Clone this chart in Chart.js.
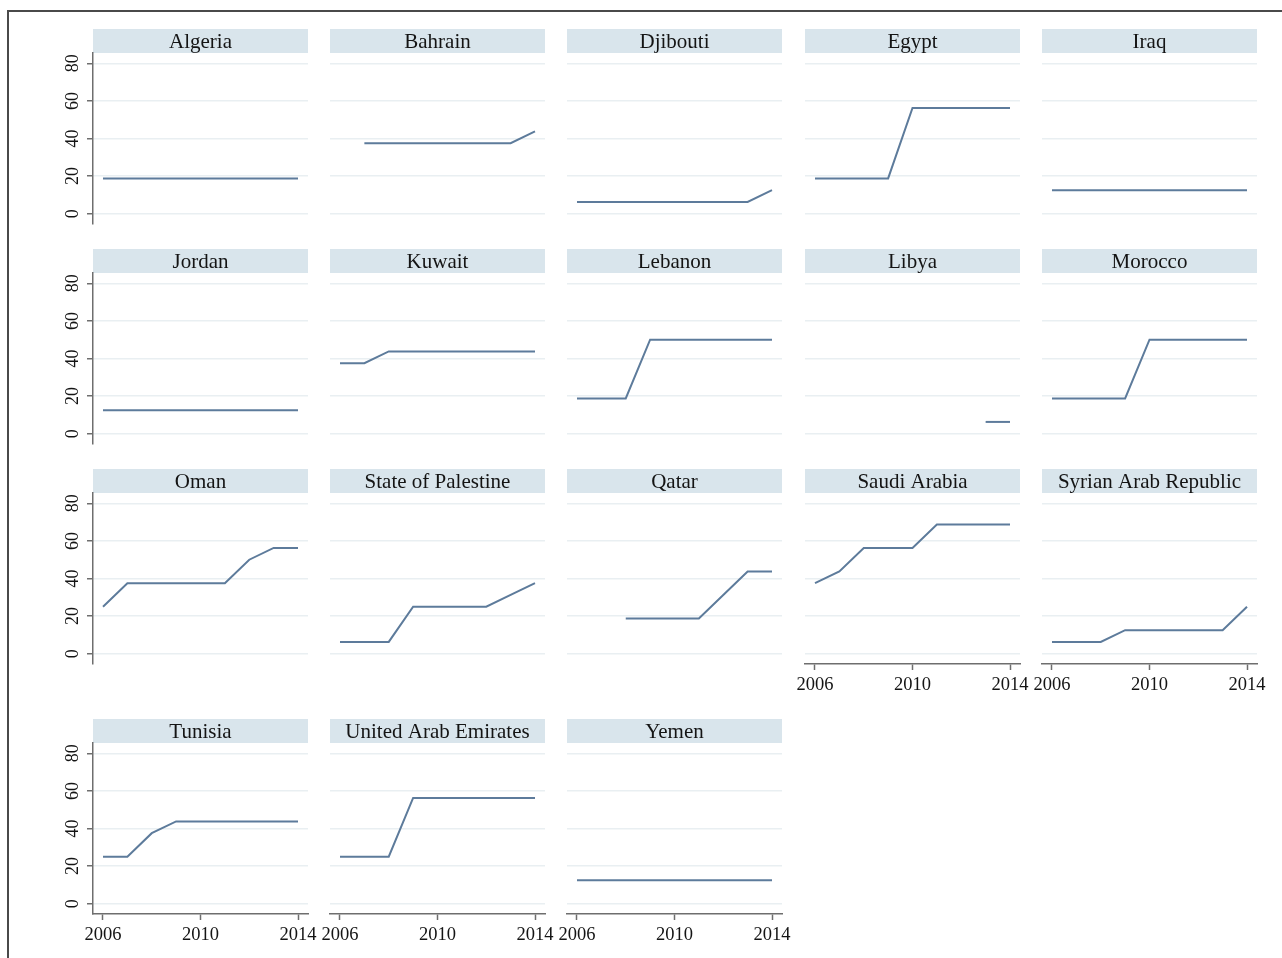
<!DOCTYPE html>
<html>
<head>
<meta charset="utf-8">
<title>Score by country, 2006–2014</title>
<script src="https://cdn.jsdelivr.net/npm/chart.js@4/dist/chart.umd.min.js"></script>
<style>
  html, body { margin: 0; padding: 0; background: #ffffff; }
  body { position: relative; width: 1282px; height: 958px; overflow: hidden; }
  #frame {
    position: absolute; left: 7px; top: 10px; width: 1300px; height: 980px;
    border-top: 2px solid #4a4a4a; border-left: 2px solid #4a4a4a;
  }
  canvas { position: absolute; }
</style>
</head>
<body>
<div id="frame"></div>
<div id="grid"></div>
<script>
// Years on the horizontal axis and the tick labels used on both axes
const years = [2006, 2007, 2008, 2009, 2010, 2011, 2012, 2013, 2014];
const yearTicks = [2006, 2010, 2014];
const scoreTicks = [0, 20, 40, 60, 80];

// Panel titles, in reading order
const countries = [
  "Algeria", "Bahrain", "Djibouti", "Egypt", "Iraq",
  "Jordan", "Kuwait", "Lebanon", "Libya", "Morocco",
  "Oman", "State of Palestine", "Qatar", "Saudi Arabia", "Syrian Arab Republic",
  "Tunisia", "United Arab Emirates", "Yemen"
];

// Yearly scores (null = no observation)
const algeria   = [18.75, 18.75, 18.75, 18.75, 18.75, 18.75, 18.75, 18.75, 18.75];
const bahrain   = [null, 37.5, 37.5, 37.5, 37.5, 37.5, 37.5, 37.5, 43.75];
const djibouti  = [6.25, 6.25, 6.25, 6.25, 6.25, 6.25, 6.25, 6.25, 12.5];
const egypt     = [18.75, 18.75, 18.75, 18.75, 56.25, 56.25, 56.25, 56.25, 56.25];
const iraq      = [12.5, 12.5, 12.5, 12.5, 12.5, 12.5, 12.5, 12.5, 12.5];
const jordan    = [12.5, 12.5, 12.5, 12.5, 12.5, 12.5, 12.5, 12.5, 12.5];
const kuwait    = [37.5, 37.5, 43.75, 43.75, 43.75, 43.75, 43.75, 43.75, 43.75];
const lebanon   = [18.75, 18.75, 18.75, 50, 50, 50, 50, 50, 50];
const libya     = [null, null, null, null, null, null, null, 6.25, 6.25];
const morocco   = [18.75, 18.75, 18.75, 18.75, 50, 50, 50, 50, 50];
const oman      = [25, 37.5, 37.5, 37.5, 37.5, 37.5, 50, 56.25, 56.25];
const palestine = [6.25, 6.25, 6.25, 25, 25, 25, 25, 31.25, 37.5];
const qatar     = [null, null, 18.75, 18.75, 18.75, 18.75, 31.25, 43.75, 43.75];
const saudi     = [37.5, 43.75, 56.25, 56.25, 56.25, 68.75, 68.75, 68.75, 68.75];
const syria     = [6.25, 6.25, 6.25, 12.5, 12.5, 12.5, 12.5, 12.5, 25];
const tunisia   = [25, 25, 37.5, 43.75, 43.75, 43.75, 43.75, 43.75, 43.75];
const uae       = [25, 25, 25, 56.25, 56.25, 56.25, 56.25, 56.25, 56.25];
const yemen     = [12.5, 12.5, 12.5, 12.5, 12.5, 12.5, 12.5, 12.5, 12.5];

const seriesList = [
  algeria, bahrain, djibouti, egypt, iraq,
  jordan, kuwait, lebanon, libya, morocco,
  oman, palestine, qatar, saudi, syria,
  tunisia, uae, yemen
];

// Panels that carry the year axis (last panel in each column)
const withYearAxis = new Set([13, 14, 15, 16, 17]);

// ---- layout of the small multiples ----
const FONT = '"Liberation Serif", "Times New Roman", Times, serif';
const colLeft = [93, 330, 567, 805, 1042];
const rowTop = [29, 249, 469, 719];
const PLOT_W = 215;
const STRIP_H = 24;
const PLOT_H = 171;
const AXIS_W = 40;      // room left of the plot for the score axis
const AXIS_H = 40;      // room under the plot for the year axis
const PAD_R = 22;

const LINE_COLOR = '#5d7b9b';
const STRIP_COLOR = '#d9e5ec';
const GRID_COLOR = '#e9eff2';
const AXIS_COLOR = '#6e6e6e';
const TEXT_COLOR = '#141414';

Chart.defaults.font.family = FONT;
Chart.defaults.color = TEXT_COLOR;

// Grey title strip above each plot area
const stripTitle = {
  id: 'stripTitle',
  beforeDraw(chart, args, opts) {
    const { ctx, chartArea } = chart;
    ctx.save();
    ctx.fillStyle = STRIP_COLOR;
    ctx.fillRect(chartArea.left, chartArea.top - STRIP_H, chartArea.right - chartArea.left, STRIP_H);
    ctx.fillStyle = TEXT_COLOR;
    ctx.font = '21px ' + FONT;
    ctx.textAlign = 'center';
    ctx.textBaseline = 'alphabetic';
    ctx.fillText(opts.text, (chartArea.left + chartArea.right) / 2, chartArea.top - STRIP_H + 18.7);
    ctx.restore();
  }
};

// Vertical (rotated) score labels on the left-hand panels
const rotatedScoreLabels = {
  id: 'rotatedScoreLabels',
  afterDraw(chart, args, opts) {
    if (!opts.show) return;
    const { ctx } = chart;
    const y = chart.scales.y;
    ctx.save();
    ctx.fillStyle = TEXT_COLOR;
    ctx.font = '18px ' + FONT;
    ctx.textAlign = 'center';
    ctx.textBaseline = 'middle';
    y.ticks.forEach(t => {
      const py = y.getPixelForValue(t.value);
      ctx.save();
      ctx.translate(chart.chartArea.left - 19.5, py);
      ctx.rotate(-Math.PI / 2);
      ctx.fillText(String(t.value), 0, 0);
      ctx.restore();
    });
    ctx.restore();
  }
};

const holder = document.getElementById('grid');

countries.forEach((name, i) => {
  const row = Math.floor(i / 5);
  const col = i % 5;
  const showY = col === 0;
  const showX = withYearAxis.has(i);

  const canvas = document.createElement('canvas');
  const w = AXIS_W + PLOT_W + PAD_R;
  const h = STRIP_H + PLOT_H + AXIS_H;
  canvas.width = w;
  canvas.height = h;
  canvas.style.width = w + 'px';
  canvas.style.height = h + 'px';
  canvas.style.left = (colLeft[col] - AXIS_W) + 'px';
  canvas.style.top = rowTop[row] + 'px';
  holder.appendChild(canvas);

  new Chart(canvas, {
    type: 'line',
    data: {
      datasets: [{
        label: name,
        data: years.map((yr, k) => ({ x: yr, y: seriesList[i][k] })),
        borderColor: LINE_COLOR,
        borderWidth: 2,
        pointRadius: 0,
        tension: 0,
        spanGaps: false
      }]
    },
    options: {
      responsive: false,
      animation: false,
      events: [],
      layout: { padding: { top: STRIP_H, right: PAD_R, left: 0, bottom: 0 } },
      plugins: {
        legend: { display: false },
        tooltip: { enabled: false },
        stripTitle: { text: name },
        rotatedScoreLabels: { show: showY }
      },
      scales: {
        x: {
          type: 'linear',
          min: 2005.59,
          max: 2014.41,
          afterBuildTicks: s => { s.ticks = yearTicks.map(v => ({ value: v })); },
          afterFit: s => { s.height = AXIS_H; },
          ticks: {
            display: showX,
            font: { size: 18.5, family: FONT },
            color: TEXT_COLOR,
            padding: 4,
            maxRotation: 0,
            minRotation: 0,
            autoSkip: false,
            callback: v => String(v)
          },
          grid: {
            display: showX,
            drawOnChartArea: false,
            drawTicks: true,
            tickLength: 6,
            tickColor: AXIS_COLOR,
            tickWidth: 1.5
          },
          border: { display: showX, color: AXIS_COLOR, width: 1.5 }
        },
        y: {
          type: 'linear',
          min: -5.5,
          max: 85.5,
          afterBuildTicks: s => { s.ticks = scoreTicks.map(v => ({ value: v })); },
          afterFit: s => { s.width = AXIS_W; },
          ticks: { display: false },
          grid: {
            color: GRID_COLOR,
            lineWidth: 1.5,
            drawTicks: showY,
            tickLength: 6,
            tickColor: AXIS_COLOR,
            tickWidth: 1.5
          },
          border: { display: showY, color: AXIS_COLOR, width: 1.5 }
        }
      }
    },
    plugins: [stripTitle, rotatedScoreLabels]
  });
});
</script>
</body>
</html>
